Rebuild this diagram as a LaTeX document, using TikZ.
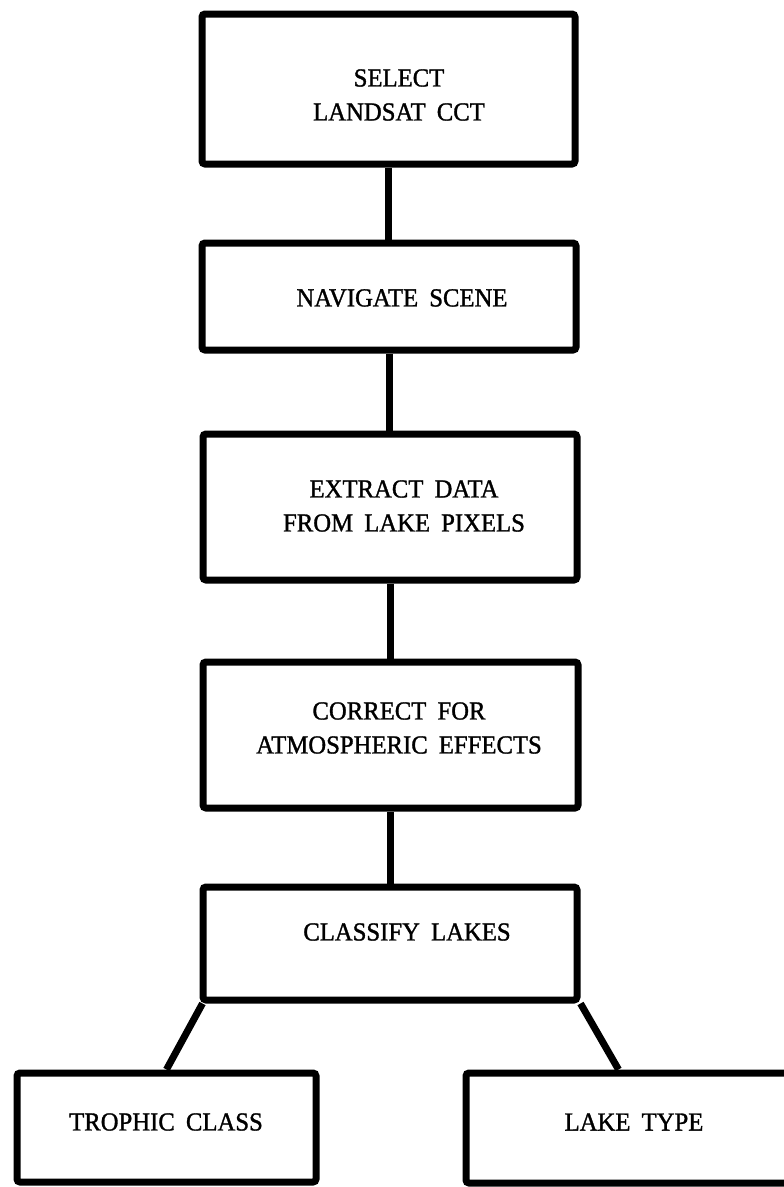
\documentclass[tikz,border=0pt]{standalone}
\usepackage{fontspec}
\setmainfont[FakeBold=1.2,FakeStretch=0.95,WordSpace=1.8]{Liberation Serif}
\usetikzlibrary{calc}
\tikzset{
  boxnode/.style={draw=black, line width=7pt, rounded corners=3pt, inner sep=0pt, fill=none},
  lbl/.style={font=\fontsize{26}{34}\selectfont, align=center, inner sep=0pt},
  link/.style={draw=black, line width=7pt}
}
\begin{document}
\begin{tikzpicture}[x=1pt,y=-1pt]
\useasboundingbox (0,0) rectangle (784,1187);
\node[boxnode, minimum width=373pt, minimum height=150pt] (b1) at (388.5,89) {};
\node[boxnode, minimum width=374pt, minimum height=107pt] (b2) at (389,296.5) {};
\node[boxnode, minimum width=374pt, minimum height=146pt] (b3) at (390,507) {};
\node[boxnode, minimum width=375pt, minimum height=146pt] (b4) at (390.5,735) {};
\node[boxnode, minimum width=374pt, minimum height=113pt] (b5) at (390,943.5) {};
\node[boxnode, minimum width=299pt, minimum height=109pt] (t1) at (166.5,1127.5) {};
\node[boxnode, minimum width=360pt, minimum height=110pt] (t2) at (646,1128) {};

\node[lbl] (l1) at (399,95) {SELECT\\LANDSAT CCT};
\node[lbl] (l2) at (402,298) {NAVIGATE SCENE};
\node[lbl] (l3) at (404,506) {EXTRACT DATA\\FROM LAKE PIXELS};
\node[lbl] (l4) at (399,728) {CORRECT FOR\\ATMOSPHERIC EFFECTS};
\node[lbl] (l5) at (407,932) {CLASSIFY LAKES};
\node[lbl] (l6) at (166,1122) {TROPHIC CLASS};
\node[lbl] (l7) at (634,1122) {LAKE TYPE};

\draw[link] (b1.south) -- (b1.south |- b2.north);
\draw[link] (b2.south) -- (b2.south |- b3.north);
\draw[link] (b3.south) -- (b3.south |- b4.north);
\draw[link] (b4.south) -- (b4.south |- b5.north);
\draw[link] ($(b5.south west)+(3,0)$) -- (t1.north);
\draw[link] (b5.south east) -- ($(t2.north west)+(156,0)$);
\end{tikzpicture}
\end{document}
